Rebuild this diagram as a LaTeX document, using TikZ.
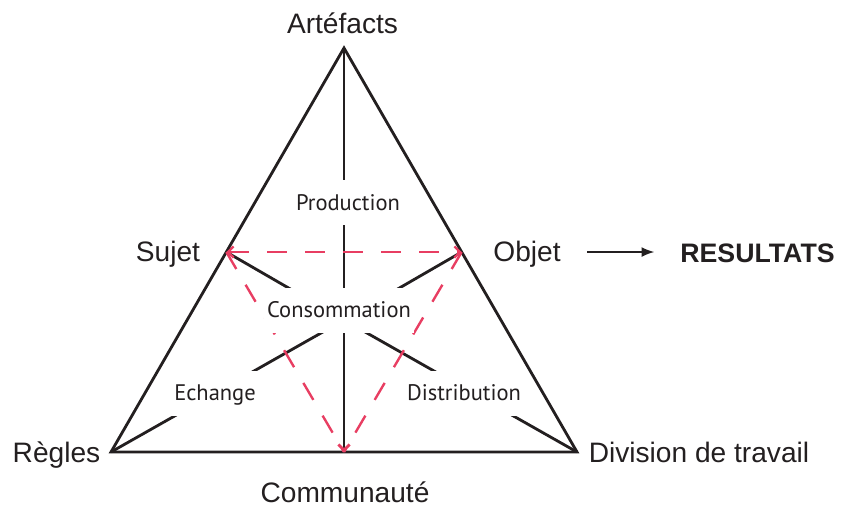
\documentclass[tikz,border=0pt]{standalone}
\usepackage{fontspec}
\setmainfont{Liberation Sans}
\newfontfamily\activityfont{PT Sans}
\usepackage{tikz}
\usetikzlibrary{calc,arrows.meta}
\definecolor{flowred}{RGB}{232,62,98}
\definecolor{inkblack}{RGB}{35,31,32}

\begin{document}
\begin{tikzpicture}[x=0.025cm, y=-0.025cm,
    corner/.style={anchor=base, text=inkblack, font=\fontsize{20}{24}\selectfont},
    activity/.style={fill=white, text=inkblack, inner xsep=2pt, inner ysep=10.5pt,
        text height=11pt, text depth=0pt, font=\activityfont\fontsize{16}{19}\selectfont},
    edge/.style={line width=2pt, draw=inkblack},
    flow/.style={line width=1.7pt, draw=flowred, dash pattern=on 14pt off 13pt},
    barb/.tip={Straight Barb[length=4pt, width=8pt]},
    redbarb/.tip={Straight Barb[length=4pt, width=8pt, color=flowred]}]
    \useasboundingbox (0,0) rectangle (841,509);

    % --- Sommets ---
    \coordinate (a) at (344,48);
    \coordinate (r) at (111,452);
    \coordinate (d) at (577,452);
    \coordinate (m) at (344,452);
    \coordinate (s) at ($(a)!0.505!(r)$);
    \coordinate (o) at ($(a)!0.505!(d)$);
    \coordinate (hub) at (344,320);

    % --- Triangle et axes ---
    \draw[edge] (a) -- (r) -- (d) -- cycle;
    \draw[edge, -redbarb] (a) -- (m);
    \draw[edge] (s) -- (hub) -- (d);
    \draw[edge] (o) -- (hub) -- (r);

    % --- Echanges (tirets) ---
    \draw[flow, barb-barb] (s) -- (o);
    \draw[flow] (s) -- (m);
    \draw[flow] (o) -- (m);

    % --- Activites ---
    \node[activity] (prod) at (348,202.5) {Production};
    \node[activity] (cons) at (339,310) {Consommation};
    \node[activity] (ech) at (215,393) {Echange};
    \node[activity] (dist) at (464,393) {Distribution};

    % --- Poles ---
    \node[corner] (art) at (342.5,33) {Artéfacts};
    \node[corner] (suj) at (168,261) {Sujet};
    \node[corner] (obj) at (527,261) {Objet};
    \node[corner] (reg) at (56.5,462) {Règles};
    \node[corner] (div) at (699,462) {Division de travail};
    \node[corner] (com) at (345,502) {Communauté};
    \node[corner, font=\bfseries\fontsize{19}{23}\selectfont] (res) at (757.5,262) {RESULTATS};

    % --- Resultat ---
    \coordinate (out) at (587,252);
    \draw[line width=1pt, draw=inkblack, -{Latex[length=9pt, width=7pt]}, shorten >=15pt] (out) -- (out -| res.west);
\end{tikzpicture}
\end{document}
